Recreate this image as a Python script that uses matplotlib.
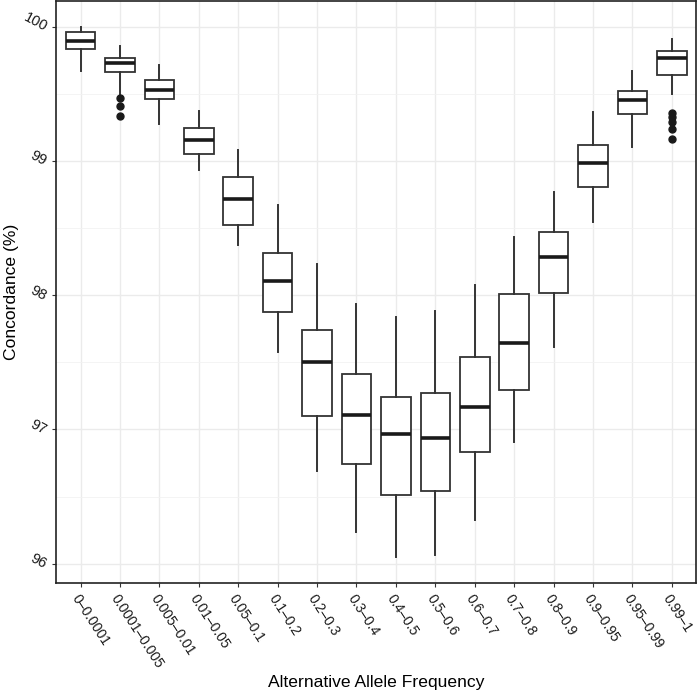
#!/usr/bin/env python3
"""Concordance by alternative allele frequency bin (boxplot)."""

import matplotlib
matplotlib.use("Agg")
import matplotlib.pyplot as plt
from matplotlib.ticker import MultipleLocator

plt.rcParams['font.family'] = ['Liberation Sans', 'DejaVu Sans']

# Frequency bins
CATEGORIES = ["0–0.0001", "0.0001–0.005", "0.005–0.01", "0.01–0.05", "0.05–0.1",
              "0.1–0.2", "0.2–0.3", "0.3–0.4", "0.4–0.5", "0.5–0.6", "0.6–0.7",
              "0.7–0.8", "0.8–0.9", "0.9–0.95", "0.95–0.99", "0.99–1"]

# Box statistics (concordance, %)
WHISK_LO = [99.672, 99.488, 99.277, 98.933, 98.378, 97.579, 96.690, 96.238,
            96.047, 96.065, 96.326, 96.906, 97.614, 98.545, 99.108, 99.503]
Q1 = [99.834, 99.663, 99.461, 99.056, 98.527, 97.879, 97.097, 96.743,
      96.512, 96.544, 96.829, 97.291, 98.021, 98.806, 99.352, 99.640]
MEDIAN = [99.898, 99.732, 99.531, 99.156, 98.717, 98.108, 97.502, 97.108,
          96.963, 96.939, 97.167, 97.644, 98.289, 98.989, 99.454, 99.771]
Q3 = [99.960, 99.771, 99.603, 99.245, 98.883, 98.319, 97.745, 97.413,
      97.244, 97.274, 97.544, 98.009, 98.471, 99.121, 99.523, 99.821]
WHISK_HI = [99.998, 99.858, 99.717, 99.374, 99.082, 98.672, 98.235, 97.937,
            97.838, 97.887, 98.076, 98.433, 98.773, 99.369, 99.675, 99.908]

# Outliers (only two bins have them)
OUTLIERS = {
    1: [99.469, 99.411, 99.339],
    15: [99.360, 99.333, 99.292, 99.240, 99.166],
}

# Build stats for bxp
stats = []
for i, cat in enumerate(CATEGORIES):
    stats.append({
        "label": cat,
        "whislo": WHISK_LO[i],
        "q1": Q1[i],
        "med": MEDIAN[i],
        "q3": Q3[i],
        "whishi": WHISK_HI[i],
        "fliers": OUTLIERS.get(i, []),
    })

fig = plt.figure(figsize=(6.97, 6.92), dpi=100)
ax = fig.add_axes([0.081, 0.158, 0.918, 0.841])

edge = "#333333"
ax.bxp(
    stats,
    positions=range(len(CATEGORIES)),
    widths=0.75,
    patch_artist=True,
    boxprops=dict(facecolor="white", edgecolor=edge, linewidth=1.3),
    medianprops=dict(color="#1a1a1a", linewidth=2.6),
    whiskerprops=dict(color=edge, linewidth=1.4),
    capprops=dict(linewidth=0),
    flierprops=dict(marker="o", markerfacecolor="#1a1a1a", markeredgecolor="#1a1a1a",
                    markersize=5),
    zorder=3,
)

ax.set_xlim(-0.61, 15.62)
ax.set_ylim(95.858, 100.197)

# ggplot-like grid
ax.yaxis.set_major_locator(MultipleLocator(1))
ax.yaxis.set_minor_locator(MultipleLocator(0.5))
ax.grid(True, which="major", color="#ebebeb", linewidth=1.0, zorder=0)
ax.grid(True, which="minor", axis="y", color="#f2f2f2", linewidth=0.6, zorder=0)
ax.set_axisbelow(True)

for spine in ax.spines.values():
    spine.set_color("#222222")
    spine.set_linewidth(1.2)

ax.set_xticks(range(len(CATEGORIES)))
ax.set_xticklabels(CATEGORIES, rotation=-57, ha="left", va="top",
                   rotation_mode="anchor", fontsize=10, color="#1a1a1a")
ax.set_yticks([96, 97, 98, 99, 100])
ax.set_yticklabels(["96", "97", "98", "99", "100"], rotation=-28, ha="right",
                   va="center_baseline", rotation_mode="anchor", fontsize=10.5,
                   color="#1a1a1a")
ax.tick_params(axis="both", which="major", length=3, width=0.8, color="#333333", pad=4)
ax.tick_params(axis="y", which="minor", length=0)

ax.set_xlabel("Alternative Allele Frequency", fontsize=12.6)
ax.set_ylabel("Concordance (%)", fontsize=12.6)
ax.xaxis.set_label_coords(0.5, -0.158)
ax.yaxis.set_label_coords(-0.058, 0.5)

plt.savefig("out.png", dpi=100)
plt.close()
